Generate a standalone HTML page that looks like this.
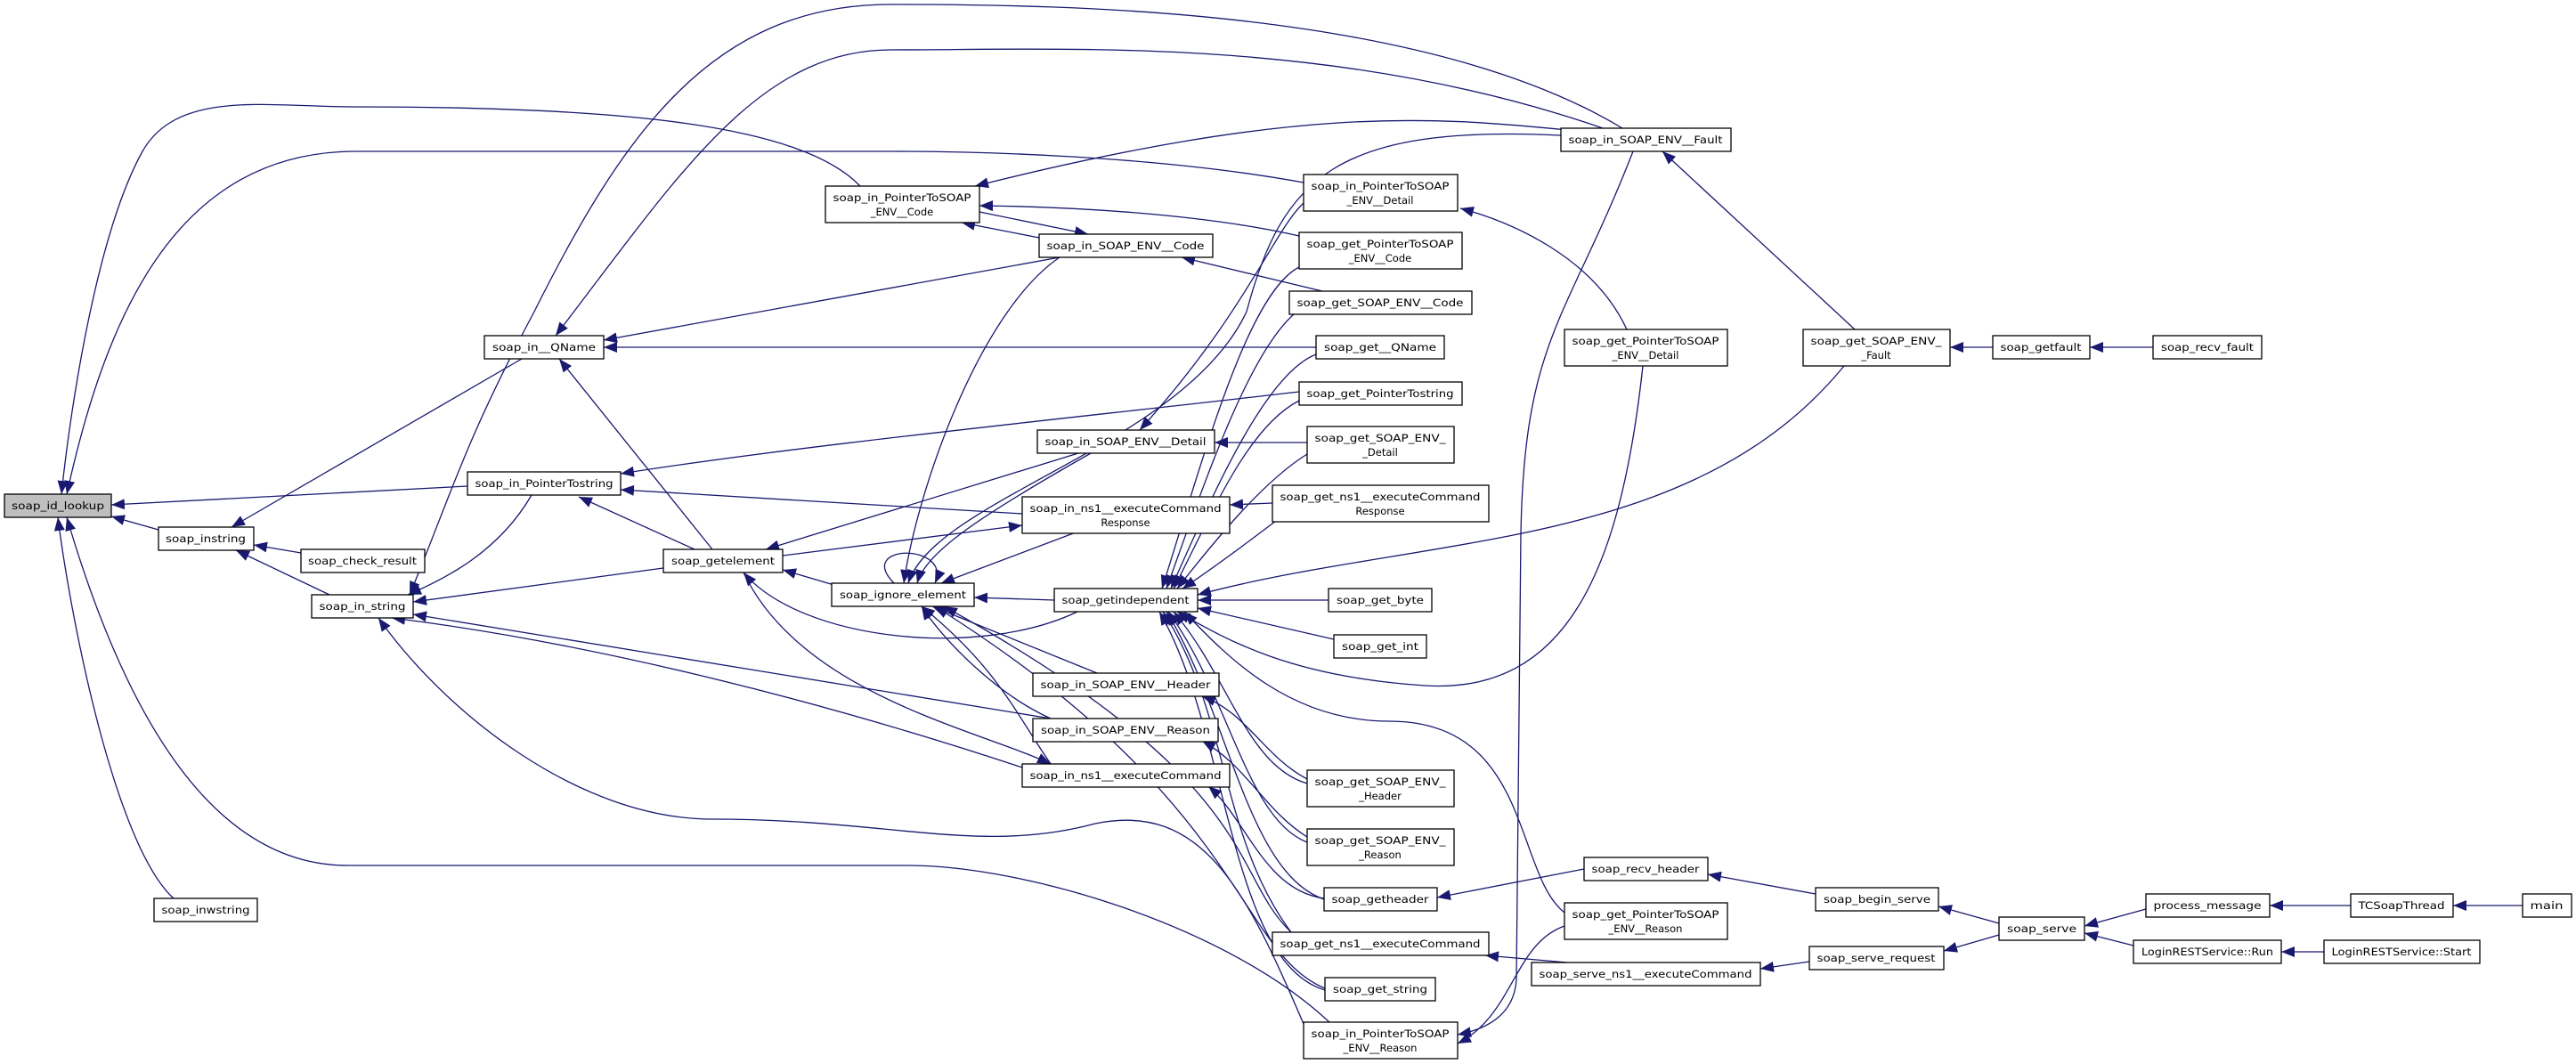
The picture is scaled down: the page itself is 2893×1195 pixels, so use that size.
<!DOCTYPE html>
<html><head><meta charset="utf-8"><style>
html,body{margin:0;padding:0;background:#fff;}
svg{display:block;}
text{font-family:"DejaVu Sans","Liberation Sans",sans-serif;font-size:11.5px;fill:#000;}
.e{fill:none;stroke:#191970;stroke-width:1.3;}
.n{fill:#fff;stroke:#000;stroke-width:1.3;}
</style></head><body>
<svg width="2893" height="1195" viewBox="0 0 2893 1195" xmlns="http://www.w3.org/2000/svg">
<defs><marker id="a" markerUnits="userSpaceOnUse" markerWidth="16" markerHeight="12" refX="15" refY="6" orient="auto"><path d="M0,0 L15,6 L0,12 z" fill="#191970"/></marker></defs>
<g class="e" marker-end="url(#a)">
<!-- right chain -->
<path d="M2833,1017 L2755,1017"/>
<path d="M2640,1017 L2549,1017"/>
<path d="M2610,1069 L2562,1069"/>
<path d="M2410,1021 L2341,1040"/>
<path d="M2396,1062 L2341,1048"/>
<path d="M2245,1037 L2177,1018"/>
<path d="M2245,1050 L2183,1068"/>
<path d="M2039,1004 L1918,982"/>
<path d="M2032,1080 L1977,1088"/>
<path d="M1760,1081 L1668,1073"/>
<path d="M1779,976 L1614,1008"/>
<path d="M2418,390 L2347,390"/>
<path d="M2238,390 L2190,390"/>
<path d="M2083,370 L1867,170"/>
<path d="M1827,370 C1790,290 1700,250 1640,234"/>
<path d="M2071,411 C1900,620 1600,600 1345,668"/>
<path d="M1845,411 C1820,640 1760,780 1600,770 C1450,760 1380,720 1322,687"/>
<path d="M1757,1025 C1700,980 1720,810 1560,810 C1450,810 1380,740 1330,687"/>
<path d="M1834,170 C1760,360 1712,380 1708,600 L1703,1100 Q1700,1150 1637,1162"/>
<path d="M1757,1040 C1700,1060 1700,1140 1637,1172"/>
<!-- Fault -->
<path d="M1822,144 C1600,10 1200,5 1000,5 C800,5 700,150 600,350 C520,500 505,560 460,668"/>
<path d="M1800,144 C1500,40 1200,56 1000,56 C850,56 760,200 624,377"/>
<path d="M1760,146 C1600,130 1450,120 1095,209"/>
<path d="M1753,152 C1500,140 1440,200 1400,350 C1330,500 1050,560 1020,655"/>
<path d="M1464,228 C1430,260 1400,350 1280,483"/>
<!-- id_lookup -->
<path d="M966,209 C900,140 700,120 400,120 C300,120 200,100 160,170 C110,260 80,450 69,555"/>
<path d="M1464,205 C1300,175 1100,170 1000,170 L400,170 C200,170 120,350 75,555"/>
<path d="M525,546 L125,567"/>
<path d="M178,595 L125,580"/>
<path d="M1495,1150 C1380,1040 1150,972 1020,972 L390,972 C200,972 110,700 75,581"/>
<path d="M195,1009 C130,950 80,700 65,581"/>
<!-- code / qname -->
<path d="M1459,265 C1350,240 1200,232 1100,231"/>
<path d="M1100,238 L1222,263"/>
<path d="M1167,267 L1080,250"/>
<path d="M1190,289 L678,382"/>
<path d="M1485,327 L1327,289"/>
<path d="M1478,390 L678,390"/>
<path d="M800,617 L628,403"/>
<path d="M586,403 L260,592"/>
<!-- strings -->
<path d="M338,621 L285,612"/>
<path d="M370,668 L265,618"/>
<path d="M597,556 C560,620 500,650 458,668"/>
<path d="M1459,440 C1200,470 900,500 697,532"/>
<path d="M1148,577 L697,550"/>
<path d="M780,617 L650,558"/>
<path d="M745,638 L464,676"/>
<path d="M1211,509 L860,617"/>
<path d="M879,624 L1148,590"/>
<path d="M940,658 L879,640"/>
<path d="M1210,687 C1100,740 900,720 835,643"/>
<path d="M1184,674 L1094,671"/>
<path d="M1004,655 C960,610 1070,610 1050,655"/>
<path d="M1225,509 C1100,580 1040,620 1030,655"/>
<path d="M1190,289 C1100,350 1030,550 1015,655"/>
<path d="M1208,598 L1057,655"/>
<path d="M1232,756 L1047,681"/>
<path d="M1180,807 C1120,780 1060,720 1035,681"/>
<path d="M1180,858 C1140,800 1120,750 1035,681"/>
<path d="M835,643 C900,780 1100,820 1180,858"/>
<path d="M1180,807 L464,690"/>
<path d="M1148,862 C900,780 650,720 440,694"/>
<path d="M1464,1150 C1400,1000 1350,900 1230,925 C1100,960 1000,920 800,920 C650,920 500,800 425,694"/>
<!-- getindependent callers -->
<path d="M1453,353 C1400,400 1350,550 1310,661"/>
<path d="M1478,398 C1420,420 1360,560 1315,661"/>
<path d="M1459,450 C1400,480 1360,580 1318,661"/>
<path d="M1459,300 C1400,330 1350,520 1305,661"/>
<path d="M1468,510 C1420,540 1370,600 1322,661"/>
<path d="M1433,585 C1400,610 1360,640 1328,661"/>
<path d="M1468,497 L1364,497"/>
<path d="M1429,565 L1381,567"/>
<path d="M1492,674 L1345,674"/>
<path d="M1498,718 L1345,683"/>
<path d="M1468,880 C1400,860 1380,760 1318,687"/>
<path d="M1468,946 C1400,920 1380,780 1312,687"/>
<path d="M1487,1010 C1400,980 1380,800 1310,687"/>
<path d="M1450,1047 C1370,940 1380,800 1306,687"/>
<path d="M1488,1112 C1380,1080 1380,820 1302,687"/>
<path d="M1468,875 C1420,850 1400,800 1350,782"/>
<path d="M1468,940 C1420,910 1400,860 1350,832"/>
<path d="M1487,1009 C1420,1000 1400,920 1357,883"/>
<path d="M1450,1047 C1380,980 1420,880 1060,681"/>
<path d="M1488,1110 C1390,1070 1400,900 1050,681"/>
</g>
<g>
<rect x="5" y="555" width="120" height="26" fill="#bfbfbf" stroke="#000" stroke-width="1.3"/><text x="65" y="572" text-anchor="middle" textLength="104" lengthAdjust="spacingAndGlyphs">soap_id_lookup</text>
</g>
<g class="nodes">
<rect class="n" x="178" y="592" width="107" height="26"/><text x="231" y="609" text-anchor="middle" textLength="90" lengthAdjust="spacingAndGlyphs">soap_instring</text>
<rect class="n" x="338" y="617" width="139" height="26"/><text x="407" y="634" text-anchor="middle" textLength="122" lengthAdjust="spacingAndGlyphs">soap_check_result</text>
<rect class="n" x="350" y="668" width="114" height="26"/><text x="407" y="685" text-anchor="middle" textLength="97" lengthAdjust="spacingAndGlyphs">soap_in_string</text>
<rect class="n" x="173" y="1009" width="116" height="26"/><text x="231" y="1026" text-anchor="middle" textLength="99" lengthAdjust="spacingAndGlyphs">soap_inwstring</text>
<rect class="n" x="544" y="377" width="134" height="26"/><text x="611" y="394" text-anchor="middle" textLength="116" lengthAdjust="spacingAndGlyphs">soap_in__QName</text>
<rect class="n" x="525" y="530" width="172" height="26"/><text x="611" y="547" text-anchor="middle" textLength="155" lengthAdjust="spacingAndGlyphs">soap_in_PointerTostring</text>
<rect class="n" x="927" y="209" width="173" height="41"/><text x="1013" y="226" text-anchor="middle" textLength="155" lengthAdjust="spacingAndGlyphs">soap_in_PointerToSOAP</text><text x="1013" y="242" text-anchor="middle">_ENV__Code</text>
<rect class="n" x="1167" y="263" width="195" height="26"/><text x="1264" y="280" text-anchor="middle" textLength="177" lengthAdjust="spacingAndGlyphs">soap_in_SOAP_ENV__Code</text>
<rect class="n" x="1165" y="483" width="199" height="26"/><text x="1264" y="500" text-anchor="middle" textLength="181" lengthAdjust="spacingAndGlyphs">soap_in_SOAP_ENV__Detail</text>
<rect class="n" x="1148" y="558" width="233" height="41"/><text x="1264" y="575" text-anchor="middle" textLength="215" lengthAdjust="spacingAndGlyphs">soap_in_ns1__executeCommand</text><text x="1264" y="591" text-anchor="middle">Response</text>
<rect class="n" x="745" y="617" width="134" height="26"/><text x="812" y="634" text-anchor="middle" textLength="116" lengthAdjust="spacingAndGlyphs">soap_getelement</text>
<rect class="n" x="934" y="655" width="160" height="26"/><text x="1014" y="672" text-anchor="middle" textLength="142" lengthAdjust="spacingAndGlyphs">soap_ignore_element</text>
<rect class="n" x="1184" y="661" width="161" height="26"/><text x="1264" y="678" text-anchor="middle" textLength="143" lengthAdjust="spacingAndGlyphs">soap_getindependent</text>
<rect class="n" x="1160" y="756" width="209" height="26"/><text x="1264" y="773" text-anchor="middle" textLength="191" lengthAdjust="spacingAndGlyphs">soap_in_SOAP_ENV__Header</text>
<rect class="n" x="1160" y="807" width="208" height="26"/><text x="1264" y="824" text-anchor="middle" textLength="190" lengthAdjust="spacingAndGlyphs">soap_in_SOAP_ENV__Reason</text>
<rect class="n" x="1148" y="858" width="233" height="26"/><text x="1264" y="875" text-anchor="middle" textLength="215" lengthAdjust="spacingAndGlyphs">soap_in_ns1__executeCommand</text>
<rect class="n" x="1464" y="1148" width="173" height="41"/><text x="1550" y="1165" text-anchor="middle" textLength="155" lengthAdjust="spacingAndGlyphs">soap_in_PointerToSOAP</text><text x="1550" y="1181" text-anchor="middle">_ENV__Reason</text>
<rect class="n" x="1753" y="144" width="191" height="26"/><text x="1848" y="161" text-anchor="middle" textLength="173" lengthAdjust="spacingAndGlyphs">soap_in_SOAP_ENV__Fault</text>
<rect class="n" x="1464" y="196" width="173" height="41"/><text x="1550" y="213" text-anchor="middle" textLength="155" lengthAdjust="spacingAndGlyphs">soap_in_PointerToSOAP</text><text x="1550" y="229" text-anchor="middle">_ENV__Detail</text>
<rect class="n" x="1459" y="261" width="183" height="41"/><text x="1550" y="278" text-anchor="middle" textLength="165" lengthAdjust="spacingAndGlyphs">soap_get_PointerToSOAP</text><text x="1550" y="294" text-anchor="middle">_ENV__Code</text>
<rect class="n" x="1448" y="327" width="205" height="26"/><text x="1550" y="344" text-anchor="middle" textLength="187" lengthAdjust="spacingAndGlyphs">soap_get_SOAP_ENV__Code</text>
<rect class="n" x="1478" y="377" width="144" height="26"/><text x="1550" y="394" text-anchor="middle" textLength="126" lengthAdjust="spacingAndGlyphs">soap_get__QName</text>
<rect class="n" x="1459" y="429" width="183" height="26"/><text x="1550" y="446" text-anchor="middle" textLength="165" lengthAdjust="spacingAndGlyphs">soap_get_PointerTostring</text>
<rect class="n" x="1468" y="479" width="165" height="41"/><text x="1550" y="496" text-anchor="middle" textLength="147" lengthAdjust="spacingAndGlyphs">soap_get_SOAP_ENV_</text><text x="1550" y="512" text-anchor="middle">_Detail</text>
<rect class="n" x="1429" y="545" width="243" height="41"/><text x="1550" y="562" text-anchor="middle" textLength="225" lengthAdjust="spacingAndGlyphs">soap_get_ns1__executeCommand</text><text x="1550" y="578" text-anchor="middle">Response</text>
<rect class="n" x="1492" y="661" width="116" height="26"/><text x="1550" y="678" text-anchor="middle" textLength="98" lengthAdjust="spacingAndGlyphs">soap_get_byte</text>
<rect class="n" x="1498" y="713" width="104" height="26"/><text x="1550" y="730" text-anchor="middle" textLength="86" lengthAdjust="spacingAndGlyphs">soap_get_int</text>
<rect class="n" x="1468" y="865" width="165" height="41"/><text x="1550" y="882" text-anchor="middle" textLength="147" lengthAdjust="spacingAndGlyphs">soap_get_SOAP_ENV_</text><text x="1550" y="898" text-anchor="middle">_Header</text>
<rect class="n" x="1468" y="931" width="165" height="41"/><text x="1550" y="948" text-anchor="middle" textLength="147" lengthAdjust="spacingAndGlyphs">soap_get_SOAP_ENV_</text><text x="1550" y="964" text-anchor="middle">_Reason</text>
<rect class="n" x="1487" y="997" width="127" height="26"/><text x="1550" y="1014" text-anchor="middle" textLength="109" lengthAdjust="spacingAndGlyphs">soap_getheader</text>
<rect class="n" x="1429" y="1047" width="243" height="26"/><text x="1550" y="1064" text-anchor="middle" textLength="225" lengthAdjust="spacingAndGlyphs">soap_get_ns1__executeCommand</text>
<rect class="n" x="1488" y="1098" width="124" height="26"/><text x="1550" y="1115" text-anchor="middle" textLength="106" lengthAdjust="spacingAndGlyphs">soap_get_string</text>
<rect class="n" x="1757" y="370" width="183" height="41"/><text x="1848" y="387" text-anchor="middle" textLength="165" lengthAdjust="spacingAndGlyphs">soap_get_PointerToSOAP</text><text x="1848" y="403" text-anchor="middle">_ENV__Detail</text>
<rect class="n" x="2025" y="370" width="165" height="41"/><text x="2107" y="387" text-anchor="middle" textLength="147" lengthAdjust="spacingAndGlyphs">soap_get_SOAP_ENV_</text><text x="2107" y="403" text-anchor="middle">_Fault</text>
<rect class="n" x="2238" y="377" width="109" height="26"/><text x="2292" y="394" text-anchor="middle" textLength="91" lengthAdjust="spacingAndGlyphs">soap_getfault</text>
<rect class="n" x="2418" y="377" width="122" height="26"/><text x="2479" y="394" text-anchor="middle" textLength="104" lengthAdjust="spacingAndGlyphs">soap_recv_fault</text>
<rect class="n" x="1779" y="963" width="139" height="26"/><text x="1848" y="980" text-anchor="middle" textLength="121" lengthAdjust="spacingAndGlyphs">soap_recv_header</text>
<rect class="n" x="1757" y="1014" width="183" height="41"/><text x="1848" y="1031" text-anchor="middle" textLength="165" lengthAdjust="spacingAndGlyphs">soap_get_PointerToSOAP</text><text x="1848" y="1047" text-anchor="middle">_ENV__Reason</text>
<rect class="n" x="1720" y="1081" width="257" height="26"/><text x="1848" y="1098" text-anchor="middle" textLength="239" lengthAdjust="spacingAndGlyphs">soap_serve_ns1__executeCommand</text>
<rect class="n" x="2039" y="997" width="138" height="26"/><text x="2108" y="1014" text-anchor="middle" textLength="120" lengthAdjust="spacingAndGlyphs">soap_begin_serve</text>
<rect class="n" x="2032" y="1063" width="151" height="26"/><text x="2107" y="1080" text-anchor="middle" textLength="133" lengthAdjust="spacingAndGlyphs">soap_serve_request</text>
<rect class="n" x="2245" y="1030" width="96" height="26"/><text x="2293" y="1047" text-anchor="middle" textLength="78" lengthAdjust="spacingAndGlyphs">soap_serve</text>
<rect class="n" x="2410" y="1004" width="139" height="26"/><text x="2479" y="1021" text-anchor="middle" textLength="121" lengthAdjust="spacingAndGlyphs">process_message</text>
<rect class="n" x="2396" y="1056" width="166" height="26"/><text x="2479" y="1073" text-anchor="middle" textLength="148" lengthAdjust="spacingAndGlyphs">LoginRESTService::Run</text>
<rect class="n" x="2640" y="1004" width="115" height="26"/><text x="2697" y="1021" text-anchor="middle" textLength="97" lengthAdjust="spacingAndGlyphs">TCSoapThread</text>
<rect class="n" x="2610" y="1056" width="175" height="26"/><text x="2697" y="1073" text-anchor="middle" textLength="157" lengthAdjust="spacingAndGlyphs">LoginRESTService::Start</text>
<rect class="n" x="2833" y="1004" width="55" height="26"/><text x="2860" y="1021" text-anchor="middle" textLength="37" lengthAdjust="spacingAndGlyphs">main</text>
</g>
</svg>
</body></html>
